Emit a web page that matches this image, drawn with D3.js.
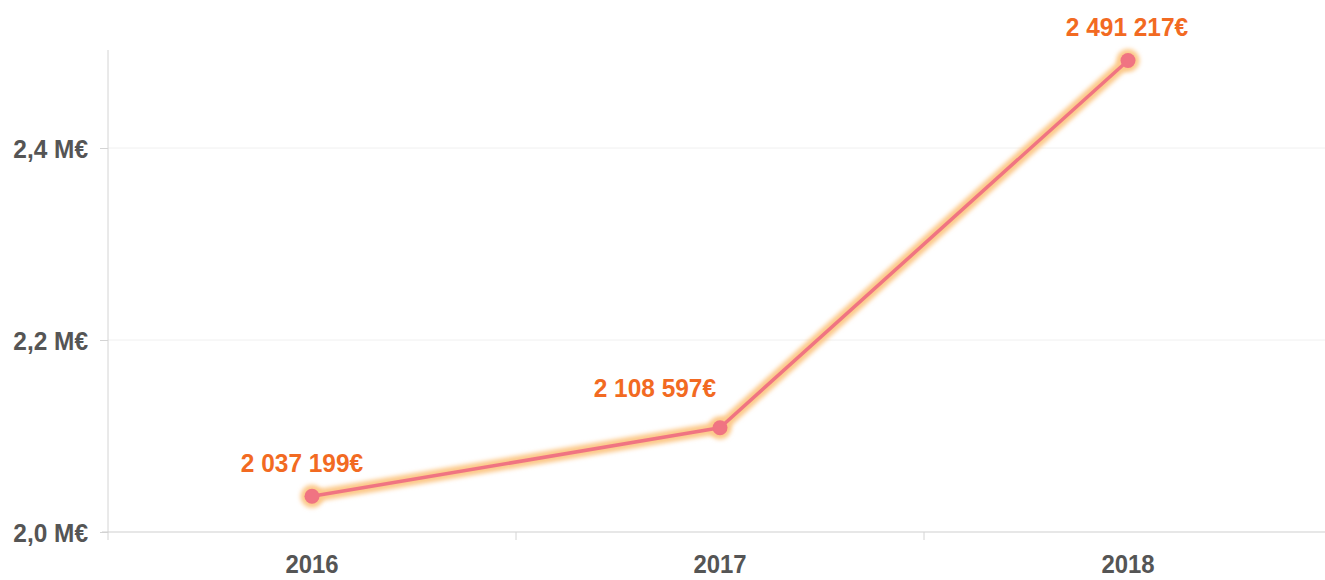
<!DOCTYPE html>
<html>
<head>
<meta charset="utf-8">
<script src="https://cdn.jsdelivr.net/npm/d3@7"></script>
<style>
  body { margin: 0; background: #fff; }
  svg { display: block; }
  text { font-family: "Liberation Sans", Arial, sans-serif; font-weight: bold; }
</style>
</head>
<body>
<svg id="chart" width="1325" height="580"></svg>
<script>
var years = ["2016", "2017", "2018"];
var revenue = [2.037199, 2.108597, 2.491217];   // M€
var revenueLabels = ["2 037 199€", "2 108 597€", "2 491 217€"];
var yTicks = [2.0, 2.2, 2.4];

var svg = d3.select('#chart');
var width = 1325, height = 580;
var margin = {top: 52, right: 0, bottom: 48, left: 108};

var x = d3.scaleBand()
  .domain(years)
  .range([margin.left, margin.left + 3 * 408])
  .paddingInner(0).paddingOuter(0);

var y = d3.scaleLinear()
  .domain([2.0, 2.5])
  .range([height - margin.bottom, margin.top]);

var data = years.map(function(d, i) {
  return {year: d, value: revenue[i], label: revenueLabels[i]};
});

function cx(d) { return x(d.year) + x.bandwidth() / 2; }

// glow filter
var defs = svg.append("defs");
var f = defs.append("filter").attr("id", "glow")
  .attr("x", "-20%").attr("y", "-20%").attr("width", "140%").attr("height", "140%");
f.append("feGaussianBlur").attr("stdDeviation", 2);

// gridlines
svg.append("g")
  .selectAll("line")
  .data(yTicks.slice(1))
  .enter().append("line")
  .attr("x1", margin.left).attr("x2", width)
  .attr("y1", function(d) { return y(d); })
  .attr("y2", function(d) { return y(d); })
  .style("stroke", "#f0f0f0")
  .style("stroke-width", 1);

// y axis
var yAxis = svg.append("g")
  .attr("transform", "translate(" + margin.left + ",0)")
  .call(d3.axisLeft(y)
    .tickValues(yTicks)
    .tickSize(8)
    .tickSizeOuter(0)
    .tickFormat(function(d) { return d3.format(".1f")(d).replace(".", ",") + " M€"; }));
yAxis.select(".domain")
  .attr("d", "M0," + (y(2.5) - 2) + "V" + (y(2.0) + 8))
  .style("stroke", "#d4d4d4");
yAxis.selectAll(".tick line").style("stroke", "#d4d4d4");
yAxis.selectAll(".tick text")
  .attr("x", 0)
  .attr("dy", "0.36em")
  .attr("transform", "translate(-20,0) scale(0.94,1)")
  .style("font-size", "26px")
  .style("fill", "#555");

// x axis
var xAxis = svg.append("g")
  .attr("transform", "translate(0," + y(2.0) + ")")
  .call(d3.axisBottom(x).tickSize(0).tickSizeOuter(0));
xAxis.select(".domain")
  .attr("d", "M" + (margin.left - 6) + ",0H" + width)
  .style("stroke", "#cfcfcf");
xAxis.selectAll(".tick text")
  .attr("y", 0)
  .attr("dy", 0)
  .attr("transform", "translate(0,41) scale(0.92,1)")
  .style("font-size", "26px")
  .style("fill", "#555");
// boundary ticks between categories
xAxis.selectAll(".sep")
  .data(years.slice(1))
  .enter().append("line")
  .attr("class", "sep")
  .attr("x1", function(d) { return x(d); })
  .attr("x2", function(d) { return x(d); })
  .attr("y1", 0).attr("y2", 8)
  .style("stroke", "#d4d4d4");

var line = d3.line()
  .x(cx)
  .y(function(d) { return y(d.value); });

// glow under line and dots
svg.append("path")
  .datum(data)
  .attr("d", line)
  .style("fill", "none")
  .style("stroke", "#fcc98a")
  .style("stroke-width", 12)
  .style("stroke-linejoin", "round")
  .attr("filter", "url(#glow)");

svg.selectAll(".halo")
  .data(data)
  .enter().append("circle")
  .attr("class", "halo")
  .attr("cx", cx)
  .attr("cy", function(d) { return y(d.value); })
  .attr("r", 11.5)
  .style("fill", "#fcc98a")
  .attr("filter", "url(#glow)");

svg.append("path")
  .datum(data)
  .attr("d", line)
  .style("fill", "none")
  .style("stroke", "#f07482")
  .style("stroke-width", 3.5)
  .style("stroke-linejoin", "round");

svg.selectAll(".dot")
  .data(data)
  .enter().append("circle")
  .attr("class", "dot")
  .attr("cx", cx)
  .attr("cy", function(d) { return y(d.value); })
  .attr("r", 7.5)
  .style("fill", "#f07482");

// value labels (middle one pushed left so it clears the rising line)
svg.selectAll(".vlabel")
  .data(data)
  .enter().append("text")
  .attr("class", "vlabel")
  .attr("transform", function(d, i) {
    var tx = cx(d) + (i === 0 ? -10 : i === 1 ? -4 : -1);
    var ty = y(d.value) - (i === 1 ? 31 : 24);
    return "translate(" + tx + "," + ty + ") scale(0.94,1)";
  })
  .style("text-anchor", function(d, i) { return i === 1 ? "end" : "middle"; })
  .style("font-size", "26px")
  .style("fill", "#f26a22")
  .text(function(d) { return d.label; });
</script>
</body>
</html>
